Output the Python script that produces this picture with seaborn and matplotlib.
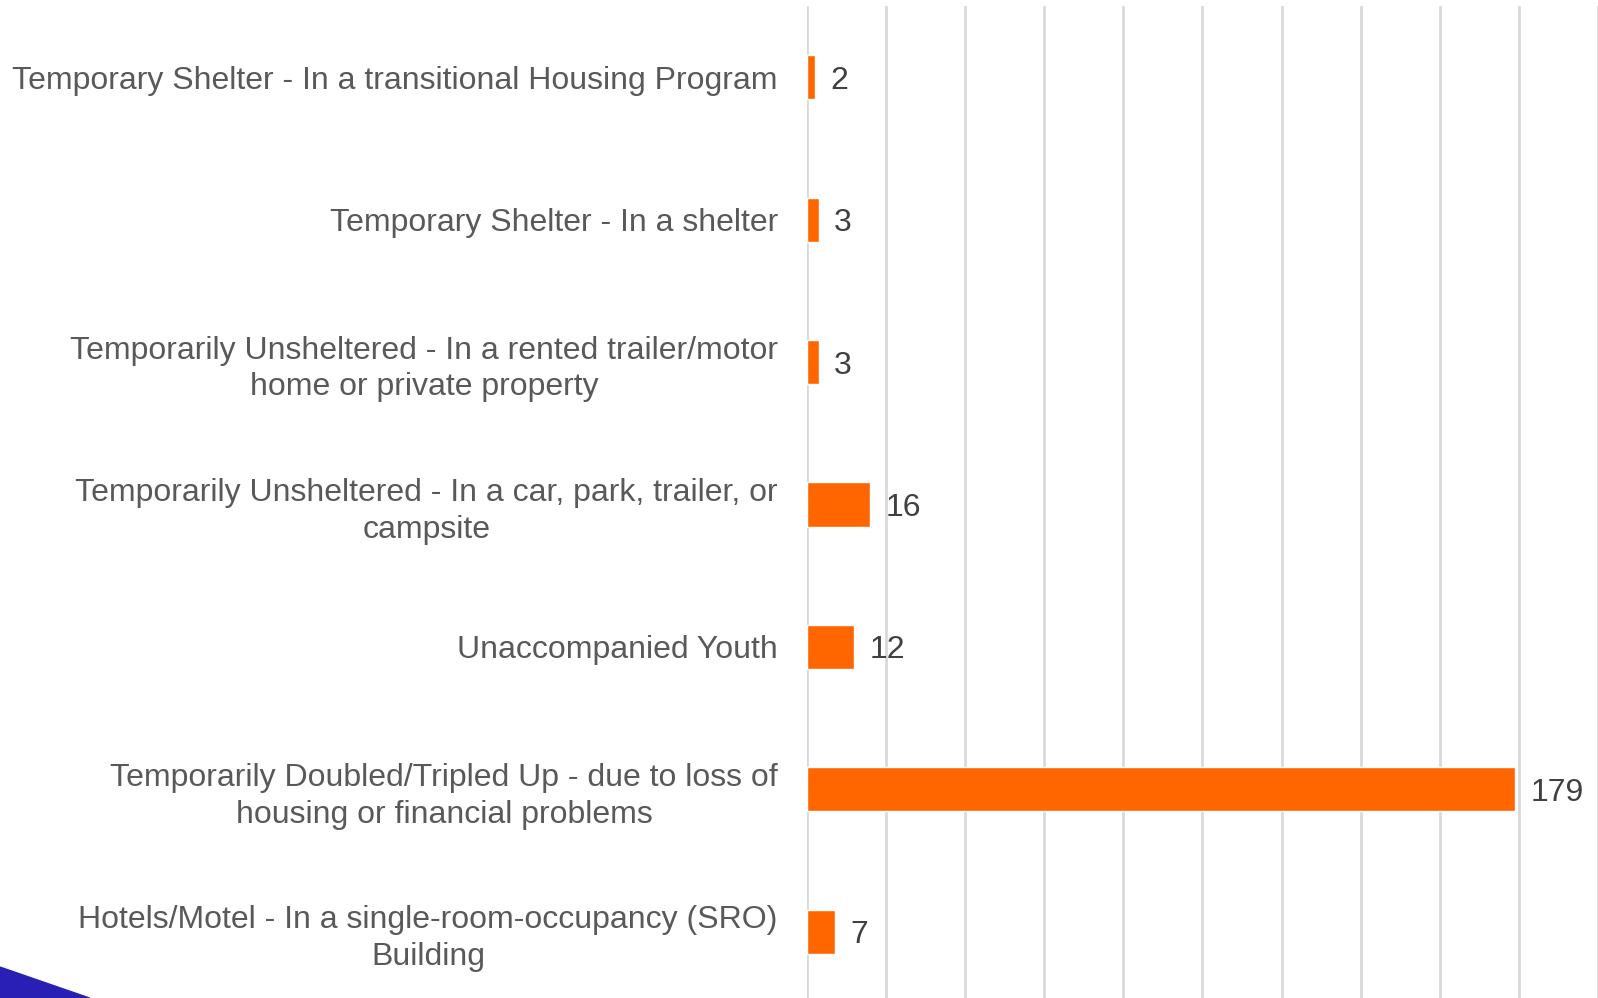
import matplotlib
matplotlib.use("Agg")
import matplotlib.pyplot as plt
import seaborn as sns
import pandas as pd
from matplotlib.patches import Polygon

categories = [
    "Temporary Shelter - In a transitional Housing Program",
    "Temporary Shelter - In a shelter",
    "Temporarily Unsheltered - In a rented trailer/motor\nhome or private property",
    "Temporarily Unsheltered - In a car, park, trailer, or\ncampsite",
    "Unaccompanied Youth",
    "Temporarily Doubled/Tripled Up - due to loss of\nhousing or financial problems",
    "Hotels/Motel - In a single-room-occupancy (SRO)\nBuilding",
]
counts = [2, 3, 3, 16, 12, 179, 7]

df = pd.DataFrame({"category": categories, "count": counts})

sns.set_theme(style="white")
plt.rcParams["font.family"] = ["Liberation Sans", "DejaVu Sans"]

fig = plt.figure(figsize=(15.98, 9.98), dpi=100)
ax = fig.add_axes([0.505, -0.005, 0.495, 0.999])

sns.barplot(data=df, x="count", y="category", color="#FF6600",
            width=0.31, saturation=1, ax=ax)

ax.set_xlim(0, 200)
ax.set_xticks(range(0, 201, 20))
ax.xaxis.grid(True, color="#D9D9D9", linewidth=2)
ax.set_axisbelow(True)
ax.tick_params(axis="x", labelbottom=False, length=0)
ax.tick_params(axis="y", length=0, pad=21, labelsize=23, labelcolor="#595959")
for lbl in ax.get_yticklabels():
    lbl.set_multialignment("center")
    lbl.set_linespacing(1.3)
ax.set_xlabel("")
ax.set_ylabel("")
for s in ax.spines.values():
    s.set_visible(False)

for bar, v in zip(ax.patches, counts):
    ax.annotate(str(v), (bar.get_width(), bar.get_y() + bar.get_height() / 2),
                xytext=(11, 0), textcoords="offset points",
                va="center_baseline", ha="left", fontsize=23, color="#404040")

# blue swoosh in the lower left corner
fig.patches.append(Polygon([[0, 0.031], [0.056, 0.0], [0, 0]], closed=True,
                           transform=fig.transFigure, color="#2A1FB5",
                           zorder=0))

fig.savefig("out.png", dpi=100)
